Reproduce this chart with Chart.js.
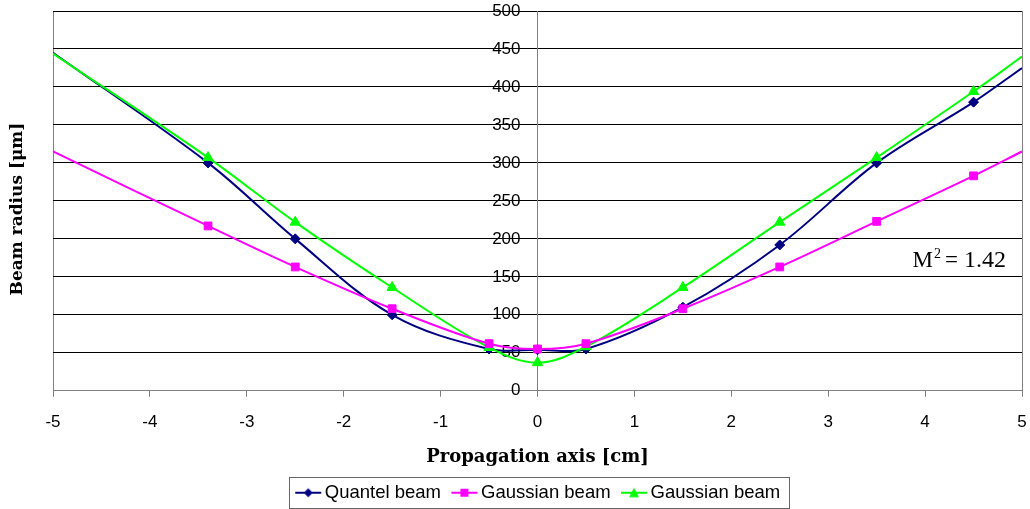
<!DOCTYPE html>
<html>
<head>
<meta charset="utf-8">
<script src="https://cdn.jsdelivr.net/npm/chart.js@4"></script>
<style>
    html, body { margin: 0; padding: 0; background: #fff; }
    #wrap { width: 1030px; height: 509px; }
</style>
</head>
<body>
<div id="wrap"><canvas id="graph" width="1030" height="509"></canvas></div>
<script>
// propagation positions [cm]
const xValues = [-5, -3.4, -2.5, -1.5, -0.5, 0, 0.5, 1.5, 2.5, 3.5, 4.5, 5];
// beam radius [um]
const quantelBeam = [445, 300, 200, 100, 55, 54, 55, 110, 192, 300, 380, 425];
const gaussianMagenta = [315, 217, 163, 108, 62, 55, 62, 108, 163, 223, 283, 315];
const gaussianGreen = [444, 307, 222, 136, 57, 37, 58, 136, 222, 307, 394, 440];
const seriesNames = ['Quantel beam', 'Gaussian beam', 'Gaussian beam'];
const annotation = { base: 'M', sup: '2', eq: '=', value: '1.42' };

const sansFont = '"Liberation Sans", Arial, sans-serif';
const serifFont = '"DejaVu Serif", serif';

function toPoints(ys) {
    return xValues.map((x, i) => ({ x: x, y: ys[i] }));
}

// no marker on the two end points
function markerSizes(r) {
    return xValues.map((x, i) => (i === 0 || i === xValues.length - 1) ? 0 : r);
}

// small line + marker pictures for the legend
function legendIcon(color, kind) {
    const c = document.createElement('canvas');
    c.width = 34;
    c.height = 12;
    const g = c.getContext('2d');
    g.strokeStyle = color;
    g.fillStyle = color;
    g.lineWidth = 2;
    g.beginPath();
    g.moveTo(7, 6);
    g.lineTo(33, 6);
    g.stroke();
    g.beginPath();
    const m = 20;
    if (kind === 'diamond') {
        g.moveTo(m, 1.5); g.lineTo(m + 4.5, 6); g.lineTo(m, 10.5); g.lineTo(m - 4.5, 6);
    } else if (kind === 'square') {
        g.rect(m - 4, 2, 8, 8);
    } else {
        g.moveTo(m, 1); g.lineTo(m + 5, 10.5); g.lineTo(m - 5, 10.5);
    }
    g.closePath();
    g.fill();
    return c;
}

const legendIcons = [
    legendIcon('#000080', 'diamond'),
    legendIcon('#FF00FF', 'square'),
    legendIcon('#00FF00', 'triangle')
];

const extras = {
    id: 'extras',
    afterDraw(chart) {
        const ctx = chart.ctx;
        ctx.save();

        // y axis title
        ctx.translate(18, 209);
        ctx.rotate(-Math.PI / 2);
        ctx.font = 'bold 17px ' + serifFont;
        ctx.fillStyle = '#000';
        ctx.textAlign = 'center';
        ctx.textBaseline = 'middle';
        ctx.fillText('Beam radius [\u03bcm]', 0, 0);
        ctx.restore();

        // M^2 label
        ctx.save();
        const xs = chart.scales.x, ys = chart.scales.y;
        let px = xs.getPixelForValue(3.87);
        const py = ys.getPixelForValue(171);
        ctx.fillStyle = '#000';
        ctx.textBaseline = 'middle';
        ctx.textAlign = 'left';
        ctx.font = '23px "Liberation Serif", serif';
        ctx.fillText(annotation.base, px, py);
        px += ctx.measureText(annotation.base).width;
        ctx.font = '14px "Liberation Serif", serif';
        ctx.fillText(annotation.sup, px + 1, py - 7);
        px += ctx.measureText(annotation.sup).width + 5;
        ctx.font = '23px "Liberation Serif", serif';
        ctx.fillText(annotation.eq, px, py);
        px += ctx.measureText(annotation.eq).width + 6;
        ctx.font = '24px "Liberation Serif", serif';
        ctx.fillText(annotation.value, px, py);
        ctx.restore();

        // legend frame
        const hb = chart.legend.legendHitBoxes;
        if (hb && hb.length) {
            const last = hb[hb.length - 1];
            const left = hb[0].left - 6;
            const right = last.left + last.width + 9;
            const top = hb[0].top + hb[0].height / 2 - 16;
            ctx.save();
            ctx.strokeStyle = '#666';
            ctx.lineWidth = 1;
            ctx.strokeRect(Math.round(left) + 0.5, Math.round(top) + 0.5, Math.round(right - left), 31);
            ctx.restore();
        }
    }
};

const ctx = document.getElementById('graph').getContext('2d');
const beamChart = new Chart(ctx, {
    type: 'line',
    data: {
        datasets: [{
            label: seriesNames[0],
            data: toPoints(quantelBeam),
            borderColor: '#000080',
            backgroundColor: '#000080',
            borderWidth: 2,
            pointStyle: 'rectRot',
            pointRadius: markerSizes(5),
            pointBorderWidth: 1,
            tension: 0.35,
            order: 3
        }, {
            label: seriesNames[1],
            data: toPoints(gaussianMagenta),
            borderColor: '#FF00FF',
            backgroundColor: '#FF00FF',
            borderWidth: 2,
            pointStyle: 'rect',
            pointRadius: markerSizes(5.5),
            pointBorderWidth: 1,
            tension: 0.35,
            order: 1
        }, {
            label: seriesNames[2],
            data: toPoints(gaussianGreen),
            borderColor: '#00FF00',
            backgroundColor: '#00FF00',
            borderWidth: 2,
            pointStyle: 'triangle',
            pointRadius: markerSizes(6),
            pointBorderWidth: 1,
            tension: 0.35,
            order: 2
        }]
    },
    options: {
        responsive: false,
        animation: false,
        layout: {
            padding: { top: 11, left: 53, right: 8, bottom: 0 }
        },
        scales: {
            x: {
                type: 'linear',
                min: -5,
                max: 5,
                afterFit: s => { s.paddingLeft = 0; s.paddingRight = 0; },
                ticks: {
                    stepSize: 1,
                    padding: 15,
                    color: '#000',
                    font: { family: sansFont, size: 17 }
                },
                grid: {
                    color: c => (c.tick && Math.abs(c.tick.value) === 5) ? '#808080' : 'rgba(0,0,0,0)',
                    tickColor: '#808080',
                    tickLength: 6
                },
                border: { color: '#808080' },
                title: {
                    display: true,
                    text: 'Propagation axis [cm]',
                    color: '#000',
                    font: { family: serifFont, size: 18, weight: 'bold', lineHeight: 1.13 },
                    padding: { top: 0, bottom: 6 }
                }
            },
            y: {
                type: 'linear',
                position: { x: 0 },
                min: 0,
                max: 500,
                afterFit: s => { s.paddingTop = 0; s.paddingBottom = 0; },
                ticks: {
                    stepSize: 50,
                    padding: 0,
                    color: '#000',
                    font: { family: sansFont, size: 17 },
                    // keep the labels clear of the axis line
                    callback: v => v + '\u2003'
                },
                grid: {
                    color: c => (c.tick && c.tick.value === 0) ? 'rgba(0,0,0,0)' : '#000',
                    drawTicks: false
                },
                border: { color: '#808080' }
            }
        },
        plugins: {
            legend: {
                position: 'bottom',
                maxHeight: 35.5,
                labels: {
                    usePointStyle: true,
                    pointStyleWidth: 20.75,
                    padding: 10,
                    color: '#000',
                    font: { family: sansFont, size: 18.5 },
                    generateLabels: chart => chart.data.datasets.map((ds, i) => ({
                        text: ds.label,
                        pointStyle: legendIcons[i],
                        datasetIndex: i,
                        fillStyle: 'rgba(0,0,0,0)',
                        strokeStyle: 'rgba(0,0,0,0)',
                        lineWidth: 0,
                        fontColor: '#000'
                    }))
                }
            },
            tooltip: { enabled: false }
        }
    },
    plugins: [extras]
});
</script>
</body>
</html>
